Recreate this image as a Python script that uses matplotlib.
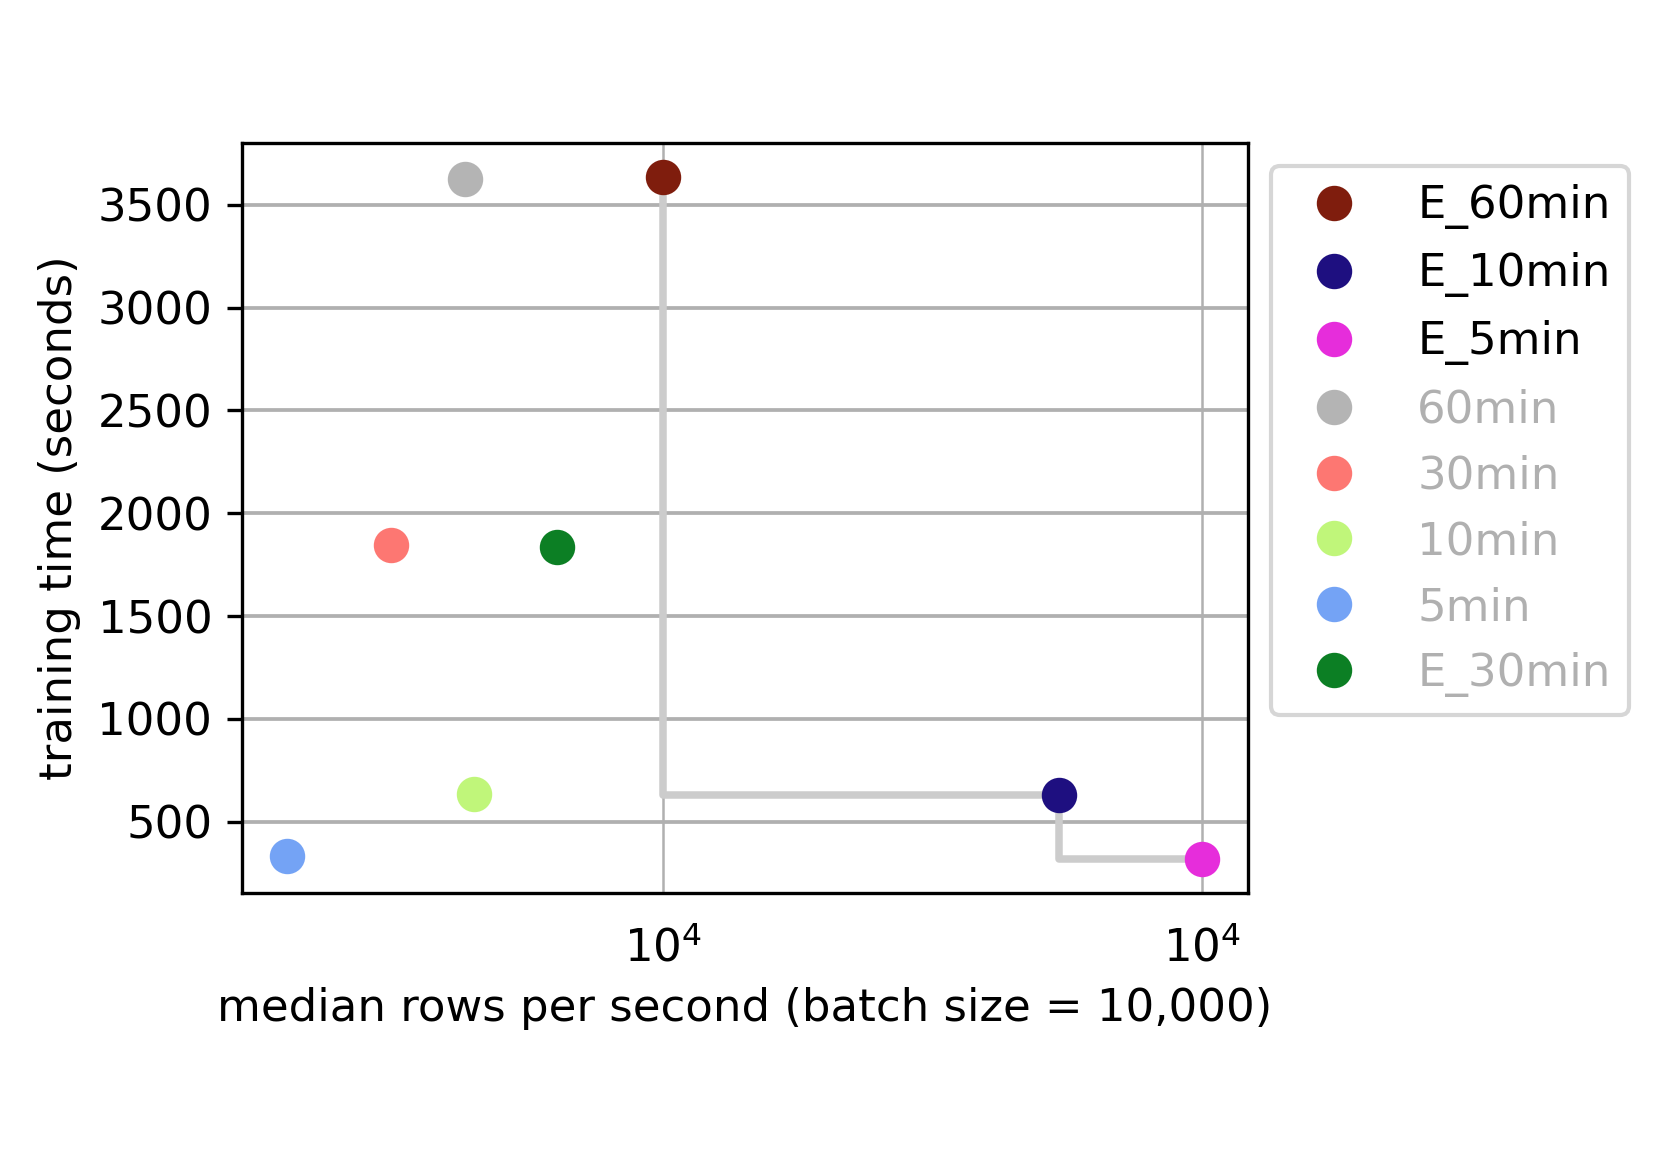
import matplotlib.pyplot as plt

# median rows per second / training time (seconds)
labels = ["E_60min", "E_10min", "E_5min", "60min", "30min", "10min", "5min", "E_30min"]
rows_per_sec = [10000, 12806, 14000, 8841, 8440, 8887, 7911, 9362]
train_time = [3634, 628, 319, 3624, 1848, 633, 335, 1838]
colors = ["#7f1d0d", "#1e0f80", "#e62ddb", "#b4b4b4", "#fd7772", "#c0f67a", "#74a3f5", "#0c7f24"]
text_colors = ["black", "black", "black", "#b0b0b0", "#b0b0b0", "#b0b0b0", "#b0b0b0", "#b0b0b0"]

# pareto front: E_60min -> E_10min -> E_5min
front = ["E_60min", "E_10min", "E_5min"]
fx = [rows_per_sec[labels.index(n)] for n in front]
fy = [train_time[labels.index(n)] for n in front]

fs = 10.8
fig = plt.figure(figsize=(1661/300, 1174/300), dpi=300)
ax = fig.add_axes([0.1454, 0.2394, 0.6059, 0.6386])

ax.plot(fx, fy, drawstyle="steps-pre", color="#cccccc", lw=1.8, zorder=2)
for x, y, c, lab in zip(rows_per_sec, train_time, colors, labels):
    ax.plot(x, y, "o", color=c, ms=7.5, label=lab, zorder=3)

ax.set_xscale("log")
ax.minorticks_off()
ax.set_xticks([fx[0], fx[2]], labels=["$10^4$", "$10^4$"])
ax.tick_params(axis="x", length=0, pad=8, labelsize=fs)
ax.tick_params(axis="y", labelsize=fs)
ax.yaxis.grid(True, color="#b0b0b0", lw=0.9)
ax.xaxis.grid(True, color="#b0b0b0", lw=0.6)
ax.set_axisbelow(True)
ax.set_xlabel("median rows per second (batch size = 10,000)", fontsize=fs)
ax.set_ylabel("training time (seconds)", fontsize=fs)

leg = ax.legend(loc="upper left", bbox_to_anchor=(1.023, 0.969), borderaxespad=0,
                fontsize=fs, handletextpad=0.85, labelspacing=0.51, framealpha=1,
                edgecolor="#d6d6d6")
for t, c in zip(leg.get_texts(), text_colors):
    t.set_color(c)

fig.savefig("out.png", dpi=300)
